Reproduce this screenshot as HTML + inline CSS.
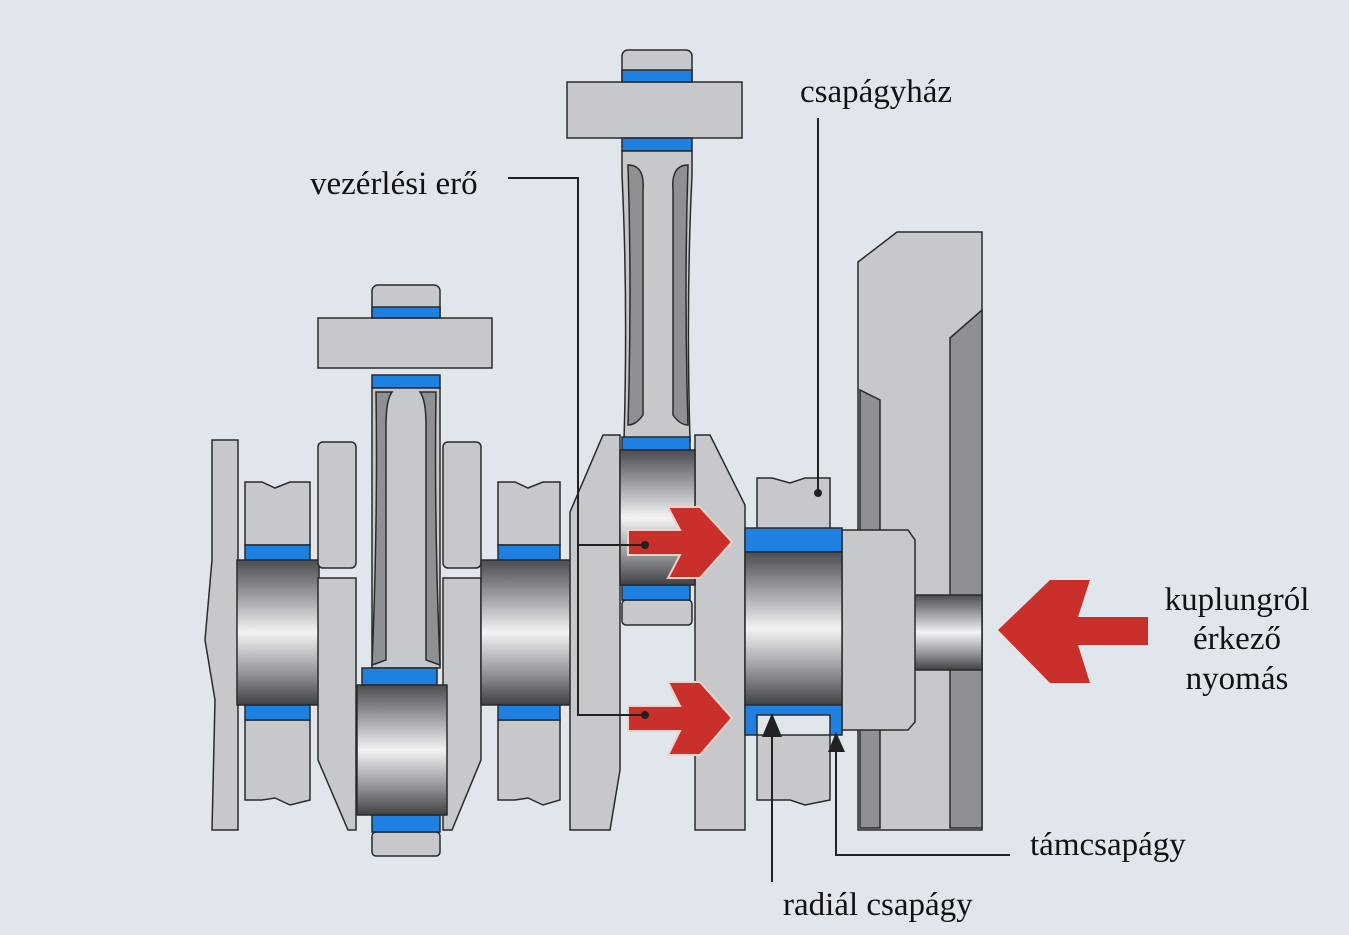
<!DOCTYPE html>
<html><head><meta charset="utf-8"><style>
html,body{margin:0;padding:0;background:#e1e6ed;}
svg{display:block}
text{font-family:"Liberation Serif",serif;font-size:33px;fill:#111}
</style></head><body>
<svg width="1349" height="935" viewBox="0 0 1349 935" xmlns="http://www.w3.org/2000/svg">
<defs>
<linearGradient id="sh" x1="0" y1="0" x2="0" y2="1">
<stop offset="0" stop-color="#4a4c50"/><stop offset="0.2" stop-color="#8c8e92"/><stop offset="0.5" stop-color="#f2f3f5"/><stop offset="0.8" stop-color="#8c8e92"/><stop offset="1" stop-color="#3e4044"/>
</linearGradient>
</defs>
<rect width="1349" height="935" fill="#e1e6ed"/>
<g stroke="#2a2a2a" stroke-width="1.5" fill="#c6c8cb">
<path d="M858,262 L897,232 L982,232 L982,830 L858,830 Z"/>
<path d="M860,390 L860,828 L880,828 L880,400 Z" fill="#8e9094"/>
<path d="M950,338 L982,310 L982,828 L950,828 Z" fill="#8e9094"/>
<rect x="912" y="595" width="70" height="75" fill="url(#sh)"/>
<path d="M842,530 L908,530 L915,540 L915,722 L908,730 L842,730 Z"/>
<path d="M212,440 L238,440 L238,830 L212,830 L215,700 L205,640 L212,560 Z"/>
<path d="M245,482 L262,482 L275,488 L290,482 L310,482 L310,545 L245,545 Z"/>
<path d="M245,720 L310,720 L310,800 L290,805 L275,798 L262,800 L245,800 Z"/>
<rect x="245" y="545" width="65" height="15" fill="#1e80e0"/>
<rect x="245" y="705" width="65" height="15" fill="#1e80e0"/>
<rect x="237" y="560" width="82" height="145" fill="url(#sh)"/>
<rect x="318" y="442" width="38" height="126" rx="5"/>
<path d="M318,578 L356,578 L356,830 L348,830 L318,760 Z"/>
<rect x="443" y="442" width="38" height="126" rx="5"/>
<path d="M443,578 L481,578 L481,760 L452,830 L443,830 Z"/>
<rect x="372" y="285" width="68" height="40" rx="6"/>
<rect x="318" y="318" width="174" height="50"/>
<rect x="372" y="307" width="68" height="11" fill="#1e80e0"/>
<rect x="372" y="375" width="68" height="13" fill="#1e80e0"/>
<path d="M372,388 L440,388 L440,668 L372,668 Z"/>
<path d="M376,392 L392,392 Q386,400 386,425 L386,660 L372,665 Q378,520 376,392Z" fill="#8e9094"/>
<path d="M436,392 L420,392 Q426,400 426,425 L426,660 L440,665 Q434,520 436,392Z" fill="#8e9094"/>
<rect x="362" y="668" width="75" height="17" fill="#1e80e0"/>
<rect x="372" y="832" width="68" height="24" rx="4"/>
<rect x="372" y="815" width="68" height="17" fill="#1e80e0"/>
<rect x="357" y="685" width="90" height="130" fill="url(#sh)"/>
<path d="M498,482 L515,482 L528,488 L543,482 L560,482 L560,545 L498,545 Z"/>
<path d="M498,720 L560,720 L560,800 L543,805 L528,798 L515,800 L498,800 Z"/>
<rect x="498" y="545" width="62" height="15" fill="#1e80e0"/>
<rect x="498" y="705" width="62" height="15" fill="#1e80e0"/>
<rect x="481" y="560" width="92" height="145" fill="url(#sh)"/>
<rect x="622" y="50" width="70" height="40" rx="6"/>
<rect x="567" y="82" width="175" height="56"/>
<rect x="622" y="70" width="70" height="12" fill="#1e80e0"/>
<rect x="622" y="138" width="70" height="13" fill="#1e80e0"/>
<path d="M622,151 L692,151 L692,175 Q686,300 690,441 L624,441 Q628,300 622,175 Z"/>
<path d="M628,165 Q645,165 643,190 L643,415 Q636,425 628,425 Q632,290 628,165Z" fill="#8e9094"/>
<path d="M688,165 Q671,165 673,190 L673,415 Q680,425 688,425 Q684,290 688,165Z" fill="#8e9094"/>
<rect x="622" y="437" width="68" height="13" fill="#1e80e0"/>
<path d="M570,512 L603,435 L620,435 L620,770 L610,830 L570,830 Z"/>
<path d="M695,435 L710,435 L745,505 L745,830 L695,830 Z"/>
<rect x="622" y="600" width="70" height="25" rx="4"/>
<rect x="622" y="585" width="68" height="15" fill="#1e80e0"/>
<rect x="620" y="450" width="75" height="135" fill="url(#sh)"/>
<path d="M757,478 L772,478 L790,483 L805,478 L830,478 L830,530 L757,530 Z"/>
<path d="M757,735 L830,735 L830,800 L805,805 L790,800 L772,800 L757,800 Z"/>
<path d="M745,528 L842,528 L842,552 L745,552 Z" fill="#1e80e0"/>
<rect x="745" y="552" width="97" height="153" fill="url(#sh)"/>
<path d="M745,705 L842,705 L842,735 L830,735 L830,715 L757,715 L757,735 L745,735 Z" fill="#1e80e0"/>
</g>
<g fill="#c9302c" stroke="#f5d0c8" stroke-width="2">
<path d="M628,530 L680,530 L668,507 L700,507 L732,542 L700,578 L668,578 L680,555 L628,555 Z"/>
<path d="M628,706 L680,706 L668,682 L700,682 L732,718 L700,755 L668,755 L680,731 L628,731 Z"/>
<path d="M1148,617 L1078,617 L1090,580 L1050,580 L998,630 L1050,683 L1090,683 L1078,645 L1148,645 Z" stroke="none"/>
</g>
<g stroke="#222" stroke-width="2" fill="none">
<polyline points="508,178 578,178 578,545 645,545"/>
<polyline points="578,545 578,715 645,715"/>
<line x1="818" y1="118" x2="818" y2="492"/>
<line x1="772" y1="735" x2="772" y2="882"/>
<polyline points="836,740 836,855 1010,855"/>
</g>
<g fill="#222">
<circle cx="645" cy="545" r="4"/><circle cx="645" cy="715" r="4"/><circle cx="818" cy="493" r="4"/>
<path d="M762,737 L772,713 L782,737Z"/><path d="M828,752 L836,732 L845,752Z"/>
</g>
<text x="800" y="102">csapágyház</text>
<text x="310" y="194">vezérlési erő</text>
<text x="1237" y="610" text-anchor="middle">kuplungról</text>
<text x="1237" y="649" text-anchor="middle">érkező</text>
<text x="1237" y="689" text-anchor="middle">nyomás</text>
<text x="1030" y="855">támcsapágy</text>
<text x="783" y="915">radiál csapágy</text>
</svg>
</body></html>
